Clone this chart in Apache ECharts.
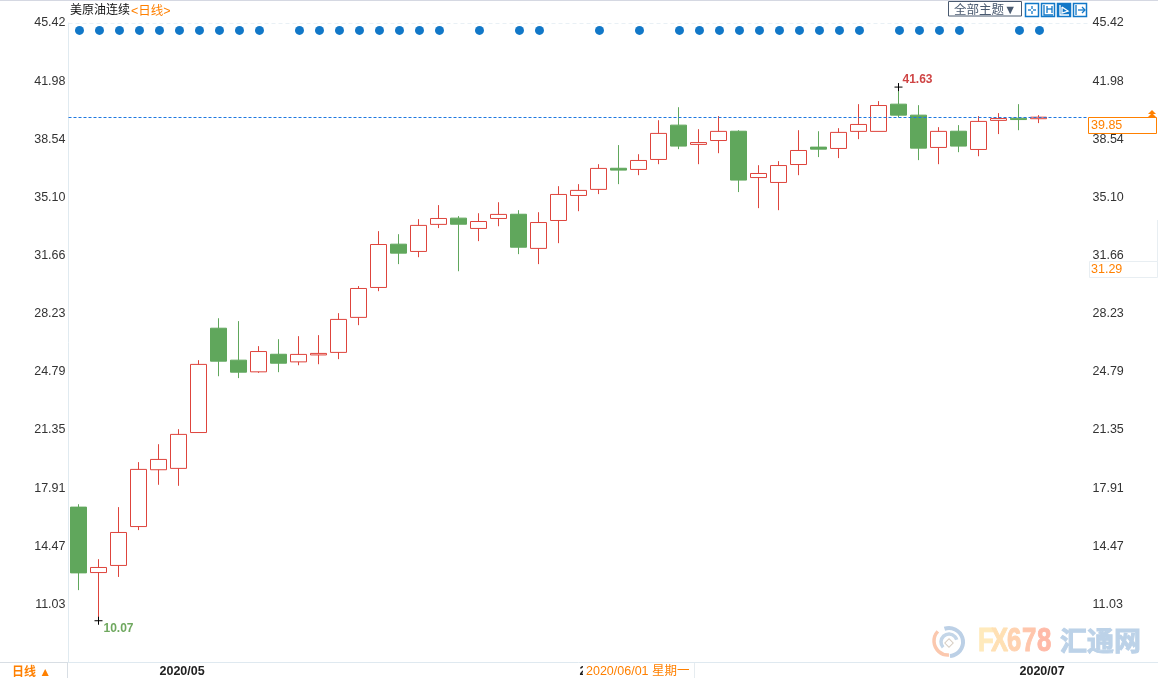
<!DOCTYPE html>
<html>
<head>
<meta charset="utf-8">
<title>美原油连续</title>
<script src="https://cdn.jsdelivr.net/npm/echarts@6/dist/echarts.min.js"></script>
<style>
  html, body { margin: 0; padding: 0; background: #fff; }
  #main { width: 1158px; height: 678px; }
</style>
</head>
<body>
<div id="main"></div>
<script>
var dates = ['2020/04/27','2020/04/28','2020/04/29','2020/04/30','2020/05/01','2020/05/04','2020/05/05','2020/05/06','2020/05/07','2020/05/08',
  '2020/05/11','2020/05/12','2020/05/13','2020/05/14','2020/05/15','2020/05/18','2020/05/19','2020/05/20','2020/05/21','2020/05/22',
  '2020/05/25','2020/05/26','2020/05/27','2020/05/28','2020/05/29','2020/06/01','2020/06/02','2020/06/03','2020/06/04','2020/06/05',
  '2020/06/08','2020/06/09','2020/06/10','2020/06/11','2020/06/12','2020/06/15','2020/06/16','2020/06/17','2020/06/18','2020/06/19',
  '2020/06/22','2020/06/23','2020/06/24','2020/06/25','2020/06/26','2020/06/29','2020/06/30','2020/07/01','2020/07/02'];
var blankSlots = ['', ''];

var opens = [16.79,12.92,13.34,15.64,19.00,19.08,21.20,27.37,25.48,24.79,25.83,25.38,25.79,25.94,28.01,29.78,32.34,31.91,33.51,33.88,
  33.27,33.86,34.11,32.09,33.74,35.22,35.58,36.83,36.76,37.35,39.38,38.24,38.47,39.02,36.28,35.99,37.05,38.08,38.00,39.01,
  39.01,40.62,39.97,38.06,39.02,37.94,39.66,39.79,39.76];
var closes = [12.90,13.22,15.29,19.02,19.61,21.09,25.23,25.42,24.77,25.99,25.30,25.82,25.88,27.89,29.72,32.32,31.81,33.45,33.86,33.52,
  33.68,34.10,32.16,33.62,35.28,35.52,36.82,36.72,37.29,38.89,38.14,38.35,39.01,36.13,36.52,36.99,37.88,37.96,38.95,39.42,
  40.54,39.97,38.02,39.01,38.14,39.60,39.77,39.71,39.85];
var lows = [11.88,10.07,12.66,15.43,18.11,18.05,21.20,24.53,24.42,24.73,24.77,25.18,25.24,25.54,27.55,29.56,31.16,31.57,33.29,30.74,
  32.52,33.40,31.75,31.16,32.40,34.29,35.30,35.89,36.42,37.07,37.96,37.07,37.72,35.42,34.47,34.35,36.42,37.49,37.43,38.55,
  39.01,39.83,37.31,37.07,37.78,37.54,38.85,39.08,39.50];
var highs = [16.96,13.71,16.79,19.45,20.51,21.40,25.48,27.96,27.79,26.31,26.72,26.90,26.96,28.26,29.86,33.11,32.93,33.82,34.65,34.00,
  34.17,34.82,34.35,34.23,35.77,35.89,37.07,38.20,37.66,39.67,40.44,39.14,39.91,39.08,37.01,37.25,39.08,39.02,39.20,40.62,
  40.80,41.63,40.56,39.26,39.38,39.91,40.09,40.62,39.97];

// days that carry a blue dot along the top
var dotDays = [0,1,2,3,4,5,6,7,8,9,11,12,13,14,15,16,17,18,20,22,23,26,28,30,31,32,33,34,35,36,37,38,39,41,42,43,44,47,48];
var dotLevel = 44.98;

var tickLabels = [45.42,41.98,38.54,35.10,31.66,28.23,24.79,21.35,17.91,14.47,11.03];
var lastClose = 39.85;
var sideQuote = 31.29;
var highPoint = 41.63;
var lowPoint = 10.07;

var RED = '#de443c', GREEN = '#60a75c', ORANGE = '#ff8000', BLUE = '#1278c8';
var FONT = '"Liberation Sans", "Noto Sans CJK SC", sans-serif';

var candleData = dates.map(function (d, i) { return [opens[i], closes[i], lows[i], highs[i]]; });
var dotData = dotDays.map(function (i) { return [dates[i], dotLevel]; });

// small ticks, four between each pair of labels
var minorTicks = [];
for (var t = 45.42 - 0.688, n = 1; t > 7.7; t -= 0.688, n++) {
  if (n % 5 !== 0) minorTicks.push(+t.toFixed(3));
}

function isMonthStart(i, v) {
  return v !== '' && (i === 4 || i === 25 || i === 47);
}

function valueAxis(pos, values, len, withLabel) {
  return {
    type: 'value', position: pos, min: 7.63, max: 45.42, scale: true,
    offset: pos === 'right' ? 1 : 0,
    splitLine: { show: false },
    axisLine: { show: pos === 'left' && withLabel, lineStyle: { color: '#e0eaf0' } },
    axisTick: { customValues: values, length: len, lineStyle: { color: '#c5d2dc' } },
    axisLabel: {
      show: withLabel, customValues: values, margin: 3,
      color: '#333', fontSize: 12.5, fontFamily: FONT, padding: [0, 0, 3, 0],
      formatter: function (v) { return v.toFixed(2); }
    }
  };
}

// toolbar button: box plus a few strokes, strokes are relative to the box
function iconBox(x, filled, strokes) {
  var ink = filled ? '#fff' : BLUE;
  var els = [{ type: 'rect', z: 100, shape: { x: x + 0.5, y: 3.5, width: 13, height: 13 },
    style: { fill: filled ? BLUE : '#fff', stroke: BLUE, lineWidth: 1.5 } }];
  strokes.forEach(function (pts) {
    els.push({ type: 'polyline', z: 101, x: x, y: 3, shape: { points: pts },
      style: { fill: 'none', stroke: ink, lineWidth: 1.3 } });
  });
  return els;
}

// FX678 fades from yellow to salmon, one letter at a time
var markLetters = ['F', 'X', '6', '7', '8'];
var markColors = ['#ffeabc', '#ffe0b4', '#ffd2b0', '#ffc6ac', '#ffbaa8'];
var markWidths = [13, 16, 15, 15, 15];
var markLetterEls = [];
var markX = 978;
markLetters.forEach(function (ch, i) {
  markLetterEls.push({ type: 'text', z: 1, x: markX, y: 625, scaleX: 0.78,
    style: { text: ch, fill: markColors[i], stroke: markColors[i], lineWidth: 1, font: 'bold 33px ' + FONT } });
  markX += markWidths[i];
});

var graphics = [
  { type: 'rect', shape: { x: 0, y: 0, width: 1158, height: 1 }, style: { fill: '#d5d8e2' } },
  { type: 'line', shape: { x1: 0, y1: 662.5, x2: 68, y2: 662.5 }, style: { stroke: '#d8dee4' } },
  { type: 'line', shape: { x1: 1088, y1: 662.5, x2: 1158, y2: 662.5 }, style: { stroke: '#dfe9f0' } },
  { type: 'line', shape: { x1: 67.5, y1: 662, x2: 67.5, y2: 678 }, style: { stroke: '#d8dee4' } },
  { type: 'text', x: 70, y: 5, style: { text: '美原油连续', fill: '#111', font: '12px ' + FONT } },
  { type: 'text', x: 131, y: 5, style: { text: '<日线>', fill: ORANGE, font: '12.5px ' + FONT } },
  { type: 'text', x: 12, y: 667, style: { text: '日线 ▲', fill: ORANGE, font: 'bold 12px ' + FONT } },

  // date under the cursor sits on top of the 2020/06 label
  { type: 'rect', z: 100, shape: { x: 583, y: 663, width: 111, height: 15 }, style: { fill: '#fff' } },
  { type: 'line', z: 100, shape: { x1: 694.5, y1: 663, x2: 694.5, y2: 678 }, style: { stroke: '#e6ecf0' } },
  { type: 'text', z: 101, x: 586, y: 665, style: { text: '2020/06/01 星期一', fill: ORANGE, font: '12.5px ' + FONT } },

  // last price and side quote boxes
  { type: 'rect', z: 100, shape: { x: 1088.5, y: 117.5, width: 68, height: 16 }, style: { fill: '#fff', stroke: ORANGE, lineWidth: 1 } },
  { type: 'text', z: 101, x: 1091, y: 119, style: { text: lastClose.toFixed(2), fill: ORANGE, font: '12.5px ' + FONT } },
  { type: 'polygon', z: 101, shape: { points: [[1152, 110], [1156, 114], [1148, 114]] }, style: { fill: ORANGE } },
  { type: 'polygon', z: 101, shape: { points: [[1152, 113], [1156, 117], [1148, 117]] }, style: { fill: ORANGE } },
  { type: 'line', shape: { x1: 1157.5, y1: 220, x2: 1157.5, y2: 262 }, style: { stroke: '#e8eef2' } },
  { type: 'rect', z: 100, shape: { x: 1089.5, y: 261.5, width: 68, height: 16 }, style: { fill: '#fff', stroke: '#e8eef2', lineWidth: 1 } },
  { type: 'text', z: 101, x: 1091, y: 263, style: { text: sideQuote.toFixed(2), fill: ORANGE, font: '12.5px ' + FONT } },

  // toolbar
  { type: 'rect', z: 100, shape: { x: 948.5, y: 1.5, width: 73, height: 14.5 }, style: { fill: '#fff', stroke: '#4a5a70', lineWidth: 1 } },
  { type: 'text', z: 101, x: 954, y: 4, style: { text: '全部主题▼', fill: '#4a5a70', font: '12.5px ' + FONT } },

  // watermark
  { type: 'arc', z: 1, shape: { cx: 949, cy: 642, r: 14, startAngle: -1.9, endAngle: 1.5 }, style: { fill: 'none', stroke: '#bcd0e6', lineWidth: 4 } },
  { type: 'arc', z: 1, shape: { cx: 948, cy: 641, r: 14, startAngle: 1.5, endAngle: 3.9 }, style: { fill: 'none', stroke: '#fbc8ae', lineWidth: 3.5 } },
  { type: 'arc', z: 1, shape: { cx: 949, cy: 642, r: 8, startAngle: 2.4, endAngle: 6.0 }, style: { fill: 'none', stroke: '#c4d6e8', lineWidth: 3.5 } },
  { type: 'rect', z: 1, rotation: 0.78, x: 949, y: 643, shape: { x: -3, y: -3, width: 6, height: 6 }, style: { fill: 'none', stroke: '#d8cfc4', lineWidth: 1 } },
  { type: 'text', z: 1, x: 1060, y: 627, style: { text: '汇通网', fill: '#bcd2e8', stroke: '#bcd2e8', lineWidth: 1, font: 'bold 27px "Noto Sans CJK SC"' } }
]
  .concat(markLetterEls)
  .concat(iconBox(1025, false, [[[7, 3], [7, 6]], [[7, 8], [7, 11]], [[3, 7], [6, 7]], [[8, 7], [11, 7]]]))
  .concat(iconBox(1041, false, [[[3, 2], [3, 12], [12, 12]], [[6, 3], [6, 10]], [[11, 3], [11, 10]], [[6, 6], [11, 6]]]))
  .concat(iconBox(1057, true, [[[3, 2], [3, 12], [12, 12]], [[5, 4], [11, 8], [5, 10], [5, 4]]]))
  .concat(iconBox(1073, false, [[[3, 2], [3, 12]], [[5, 7], [12, 7]], [[9, 4], [12, 7], [9, 10]]]));

var chart = echarts.init(document.getElementById('main'));
chart.setOption({
  animation: false,
  backgroundColor: '#fff',
  grid: { left: 68.5, top: 23, width: 1020, height: 639, containLabel: false },
  xAxis: {
    type: 'category', data: dates.concat(blankSlots), boundaryGap: true,
    axisLine: { lineStyle: { color: '#dfe9f0' } },
    axisTick: { alignWithLabel: true, interval: isMonthStart, length: 4, lineStyle: { color: '#bfcbd4' } },
    axisLabel: {
      interval: isMonthStart, align: 'left', margin: 3, padding: [0, 0, 0, 1], color: '#222', fontSize: 12.5, fontWeight: 'bold', fontFamily: FONT,
      formatter: function (v) { return v.slice(0, 7); }
    },
    splitLine: { show: false }
  },
  yAxis: [
    valueAxis('left', tickLabels, 4, true),
    valueAxis('right', tickLabels, 4, true),
    valueAxis('left', minorTicks, 1, false),
    valueAxis('right', minorTicks, 1, false)
  ],
  series: [
    {
      type: 'candlestick', name: '美原油连续', data: candleData, barWidth: 16, z: 3,
      itemStyle: { color: '#fff', color0: GREEN, borderColor: RED, borderColor0: GREEN, borderWidth: 1 },
      markLine: {
        silent: true, symbol: 'none', animation: false, label: { show: false },
        data: [
          { yAxis: lastClose, lineStyle: { color: '#1e78e0', type: [3, 2], width: 1 } },
          { yAxis: 45.42, lineStyle: { color: '#e9f0f5', type: [4, 3], width: 1 } }
        ]
      },
      markPoint: {
        symbol: 'path://M0 5H10M5 0V10', symbolSize: 8, silent: true, animation: false,
        itemStyle: { color: 'none', borderColor: '#000', borderWidth: 1 },
        data: [
          { coord: [dates[41], highPoint], value: highPoint,
            label: { position: 'inside', offset: [19, -7], color: '#cf4545', fontWeight: 'bold', fontSize: 12, fontFamily: FONT, formatter: String(highPoint) } },
          { coord: [dates[1], lowPoint], value: lowPoint,
            label: { position: 'inside', offset: [20, 8], color: '#6fa85f', fontWeight: 'bold', fontSize: 12, fontFamily: FONT, formatter: String(lowPoint) } }
        ]
      }
    },
    {
      type: 'scatter', data: dotData, symbol: 'circle', symbolSize: 9, symbolOffset: [1, 0], z: 4, silent: true,
      itemStyle: { color: BLUE, opacity: 1 }
    }
  ],
  graphic: graphics
});
</script>
</body>
</html>
